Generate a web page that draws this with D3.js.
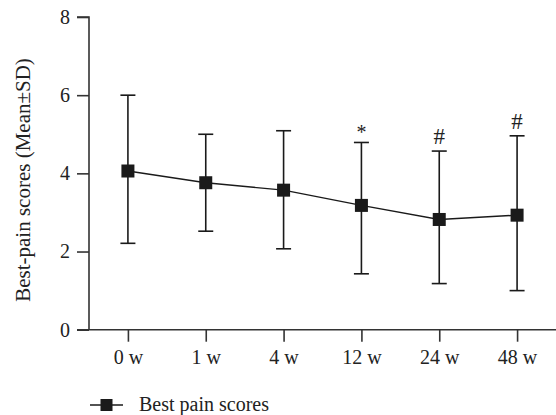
<!DOCTYPE html>
<html><head><meta charset="utf-8">
<script src="https://cdn.jsdelivr.net/npm/d3@7"></script>
<style>body{margin:0;background:#fff}svg{display:block}</style>
</head><body><svg id="c" width="556" height="415"></svg>
<script>
const categories = ["0 w","1 w","4 w","12 w","24 w","48 w"];
const means = [4.06, 3.76, 3.57, 3.18, 2.82, 2.93];
const upper = [6.0, 5.0, 5.09, 4.79, 4.57, 4.96];
const lower = [2.21, 2.52, 2.07, 1.43, 1.18, 1.0];
const marks = ["", "", "", "*", "#", "#"];
const yTicks = [0, 2, 4, 6, 8];

const FONT = '"Liberation Serif","DejaVu Serif",serif';
const svg = d3.select("#c");
const x = d3.scalePoint().domain(categories).range([89, 556]).padding(0.5);
const y = d3.scaleLinear().domain([0, 8]).range([329.7, 17]);
const col = "#1a1a1a";

// y axis
const ya = svg.append("g").attr("transform","translate(89,0)")
  .call(d3.axisLeft(y).tickValues(yTicks).tickSize(12).tickPadding(7).tickFormat(d3.format("d")));
ya.select(".domain").attr("d", `M-12,${y(8)}H0V${y(0)}`);
// x axis
const xa = svg.append("g").attr("transform",`translate(0,${y(0)})`)
  .call(d3.axisBottom(x).tickSize(12).tickPadding(8));
xa.select(".domain").attr("d", `M77,0H556`);
[ya, xa].forEach(g => {
  g.attr("font-family", FONT).attr("font-size", 20);
  g.selectAll(".domain").attr("stroke", "#333").attr("stroke-width", 1.6);
  g.selectAll(".tick line").attr("stroke", "#333").attr("stroke-width", 1.6);
  g.selectAll("text").attr("fill", "#222");
});

svg.append("text").attr("transform", `translate(30,180) rotate(-90)`)
  .attr("text-anchor","middle").attr("font-family",FONT).attr("font-size",21).attr("fill","#222")
  .text("Best-pain scores (Mean±SD)");

// error bars
const data = categories.map((c,i)=>({c, m:means[i], u:upper[i], l:lower[i], k:marks[i]}));
const eb = svg.append("g").attr("stroke", col).attr("stroke-width", 1.6);
data.forEach(d => {
  const cx = x(d.c);
  eb.append("line").attr("x1",cx).attr("x2",cx).attr("y1",y(d.u)).attr("y2",y(d.l));
  eb.append("line").attr("x1",cx-7.5).attr("x2",cx+7.5).attr("y1",y(d.u)).attr("y2",y(d.u));
  eb.append("line").attr("x1",cx-7.5).attr("x2",cx+7.5).attr("y1",y(d.l)).attr("y2",y(d.l));
});
svg.append("path").datum(data).attr("fill","none").attr("stroke",col).attr("stroke-width",1.4)
  .attr("d", d3.line().x(d=>x(d.c)).y(d=>y(d.m)));
svg.selectAll("rect.pt").data(data).enter().append("rect").attr("class","pt")
  .attr("x",d=>x(d.c)-6.5).attr("y",d=>y(d.m)-6.5).attr("width",13).attr("height",13).attr("fill",col);
svg.selectAll("text.mk").data(data.filter(d=>d.k)).enter().append("text").attr("class","mk")
  .attr("x",d=>x(d.c)).attr("y",d=>y(d.u)-(d.k==="*"?3:7)).attr("text-anchor","middle")
  .attr("font-family",FONT).attr("fill","#222")
  .attr("font-size",d=>d.k==="*"?20:23).text(d=>d.k);

// legend
const lg = svg.append("g").attr("transform","translate(90,405)");
lg.append("line").attr("x1",0).attr("x2",33).attr("stroke",col).attr("stroke-width",1.6);
lg.append("rect").attr("x",10.5).attr("y",-6).attr("width",12).attr("height",12).attr("fill",col);
lg.append("text").attr("x",49).attr("y",6).attr("font-family",FONT).attr("font-size",20).attr("fill","#222").text("Best pain scores");
</script></body></html>
